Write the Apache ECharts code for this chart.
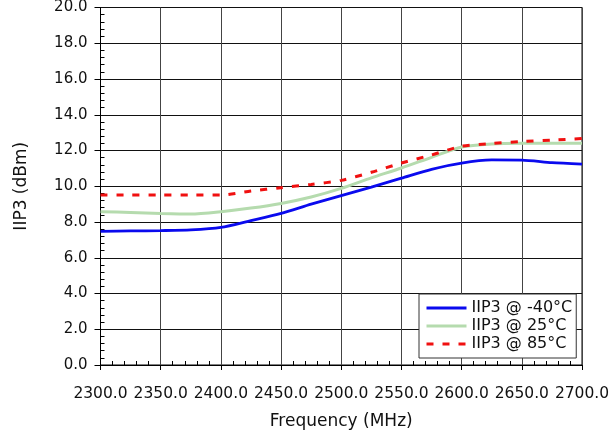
<!DOCTYPE html>
<html>
<head>
<meta charset="utf-8">
<script src="https://cdn.jsdelivr.net/npm/echarts@6/dist/echarts.min.js"></script>
<style>
html,body{margin:0;padding:0;background:#fff;}
#chart{width:616px;height:435px;}
</style>
</head>
<body>
<div id="chart"></div>
<script>
// Data
var freqs = [2300, 2325, 2350, 2375, 2400, 2425, 2450, 2475, 2500, 2525, 2550, 2575, 2600, 2625, 2650, 2675, 2700];
var iip3Minus40 = [7.48, 7.50, 7.52, 7.56, 7.70, 8.08, 8.48, 9.00, 9.48, 9.95, 10.45, 10.95, 11.30, 11.47, 11.46, 11.32, 11.24];
var iip3Plus25  = [8.58, 8.53, 8.48, 8.45, 8.58, 8.78, 9.04, 9.40, 9.88, 10.47, 11.02, 11.62, 12.20, 12.37, 12.40, 12.40, 12.40];
var iip3Plus85  = [9.51, 9.51, 9.51, 9.51, 9.51, 9.73, 9.92, 10.10, 10.33, 10.78, 11.30, 11.75, 12.24, 12.39, 12.50, 12.58, 12.67];
var seriesNames = ['IIP3 @ -40°C', 'IIP3 @ 25°C', 'IIP3 @ 85°C'];
var xTitle = 'Frequency (MHz)';
var yTitle = 'IIP3 (dBm)';

function pairs(ys) { return freqs.map(function (f, i) { return [f, ys[i]]; }); }

var FONT = 'DejaVu Sans';
var chart = echarts.init(document.getElementById('chart'), null, {renderer: 'canvas'});
chart.setOption({
  animation: false,
  backgroundColor: '#fff',
  textStyle: {fontFamily: FONT, color: '#111'},
  grid: {left: 100.5, right: 34, top: 6, bottom: 70, show: true, borderColor: '#000', borderWidth: 1},
  legend: {
    orient: 'vertical',
    left: 419, top: 294,
    padding: [5, 4, 5, 6],
    backgroundColor: '#fff',
    borderColor: '#333', borderWidth: 1, borderRadius: 0,
    itemWidth: 40, itemHeight: 18, itemGap: 0,
    itemStyle: {opacity: 0},
    lineStyle: {width: 3},
    textStyle: {fontFamily: FONT, fontSize: 16, color: '#111', lineHeight: 18},
    data: seriesNames
  },
  xAxis: {
    type: 'value', min: 2300, max: 2700, interval: 50,
    name: xTitle, nameLocation: 'middle', nameGap: 48,
    nameTextStyle: {fontFamily: FONT, fontSize: 17, color: '#111'},
    axisLine: {show: true, lineStyle: {color: '#000', width: 1}},
    axisTick: {show: true, length: 5, lineStyle: {color: '#000'}},
    minorTick: {show: true, splitNumber: 5, length: -4, lineStyle: {color: '#000'}},
    axisLabel: {fontFamily: FONT, fontSize: 15.5, color: '#111', margin: 21, formatter: function (v) { return v.toFixed(1); }},
    splitLine: {show: true, lineStyle: {color: '#444', width: 1}}
  },
  yAxis: {
    type: 'value', min: 0, max: 20, interval: 2,
    name: yTitle, nameLocation: 'middle', nameGap: 70,
    nameTextStyle: {fontFamily: FONT, fontSize: 17, color: '#111'},
    axisLine: {show: true, lineStyle: {color: '#000', width: 1}},
    axisTick: {show: true, length: 6, lineStyle: {color: '#000'}},
    minorTick: {show: true, splitNumber: 5, length: -4, lineStyle: {color: '#000'}},
    axisLabel: {fontFamily: FONT, fontSize: 15, color: '#111', margin: 13, formatter: function (v) { return v.toFixed(1); }},
    splitLine: {show: true, lineStyle: {color: '#111', width: 1}}
  },
  series: [
    {name: seriesNames[0], type: 'line', data: pairs(iip3Minus40), symbol: 'none', smooth: 0.25,
     lineStyle: {color: '#0a0aee', width: 2.8}, itemStyle: {color: '#0a0aee'}, z: 4},
    {name: seriesNames[1], type: 'line', data: pairs(iip3Plus25), symbol: 'none', smooth: 0.25,
     lineStyle: {color: '#b5dbae', width: 3}, itemStyle: {color: '#b5dbae'}, z: 3},
    {name: seriesNames[2], type: 'line', data: pairs(iip3Plus85), symbol: 'none', smooth: 0.25,
     lineStyle: {color: '#f01010', width: 3, type: [7, 9]}, itemStyle: {color: '#f01010'}, z: 5}
  ]
});
</script>
</body>
</html>
